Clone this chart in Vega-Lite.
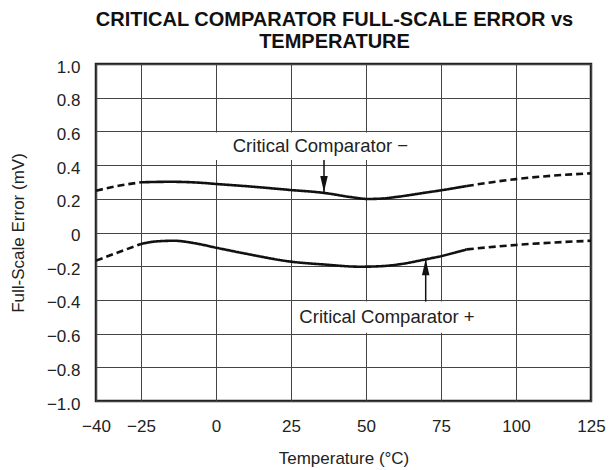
{
  "$schema": "https://vega.github.io/schema/vega-lite/v6.json",
  "width": 495,
  "height": 337,
  "autosize": {"type": "none"},
  "padding": {"left": 96, "top": 64, "right": 18, "bottom": 69},
  "background": "white",
  "config": {
    "font": "Liberation Sans",
    "view": {"stroke": "#222", "strokeWidth": 2.5},
    "axis": {
      "domain": false,
      "ticks": false,
      "grid": true,
      "gridColor": "#444",
      "gridWidth": 1,
      "labelOverlap": false,
      "labelFlush": false,
      "labelBound": false,
      "labelFont": "Liberation Sans",
      "labelFontSize": 17,
      "labelColor": "#222",
      "titleFont": "Liberation Sans",
      "titleFontSize": 17,
      "titleFontWeight": "normal",
      "titleColor": "#222"
    }
  },
  "title": {
    "text": ["CRITICAL COMPARATOR FULL-SCALE ERROR vs", "TEMPERATURE"],
    "font": "Liberation Sans",
    "fontSize": 20,
    "fontWeight": "bold",
    "color": "#111",
    "lineHeight": 22,
    "anchor": "middle",
    "dx": -9,
    "offset": 6
  },
  "datasets": {
    "curves": [
      {"series": "minus", "part": "dashed1", "t": -40, "v": 0.248},
      {"series": "minus", "part": "dashed1", "t": -32.5, "v": 0.277},
      {"series": "minus", "part": "dashed1", "t": -25, "v": 0.298},
      {"series": "minus", "part": "solid", "t": -25, "v": 0.298},
      {"series": "minus", "part": "solid", "t": -15, "v": 0.301},
      {"series": "minus", "part": "solid", "t": -5, "v": 0.295},
      {"series": "minus", "part": "solid", "t": 0, "v": 0.288},
      {"series": "minus", "part": "solid", "t": 10, "v": 0.275},
      {"series": "minus", "part": "solid", "t": 25, "v": 0.252},
      {"series": "minus", "part": "solid", "t": 36, "v": 0.235},
      {"series": "minus", "part": "solid", "t": 45, "v": 0.21},
      {"series": "minus", "part": "solid", "t": 50.6, "v": 0.199},
      {"series": "minus", "part": "solid", "t": 55, "v": 0.201},
      {"series": "minus", "part": "solid", "t": 61, "v": 0.213},
      {"series": "minus", "part": "solid", "t": 70, "v": 0.237},
      {"series": "minus", "part": "solid", "t": 75.6, "v": 0.252},
      {"series": "minus", "part": "solid", "t": 83.6, "v": 0.276},
      {"series": "minus", "part": "dashed2", "t": 83.6, "v": 0.276},
      {"series": "minus", "part": "dashed2", "t": 100, "v": 0.317},
      {"series": "minus", "part": "dashed2", "t": 112, "v": 0.337},
      {"series": "minus", "part": "dashed2", "t": 125, "v": 0.351},
      {"series": "plus", "part": "dashed1", "t": -40, "v": -0.167},
      {"series": "plus", "part": "dashed1", "t": -32.5, "v": -0.117},
      {"series": "plus", "part": "dashed1", "t": -25, "v": -0.068},
      {"series": "plus", "part": "solid", "t": -25, "v": -0.068},
      {"series": "plus", "part": "solid", "t": -20, "v": -0.053},
      {"series": "plus", "part": "solid", "t": -14, "v": -0.049},
      {"series": "plus", "part": "solid", "t": -7, "v": -0.064},
      {"series": "plus", "part": "solid", "t": 0, "v": -0.09},
      {"series": "plus", "part": "solid", "t": 10, "v": -0.126},
      {"series": "plus", "part": "solid", "t": 25, "v": -0.173},
      {"series": "plus", "part": "solid", "t": 36, "v": -0.19},
      {"series": "plus", "part": "solid", "t": 48, "v": -0.203},
      {"series": "plus", "part": "solid", "t": 55, "v": -0.2},
      {"series": "plus", "part": "solid", "t": 61, "v": -0.189},
      {"series": "plus", "part": "solid", "t": 70, "v": -0.159},
      {"series": "plus", "part": "solid", "t": 75.6, "v": -0.138},
      {"series": "plus", "part": "solid", "t": 83.6, "v": -0.1},
      {"series": "plus", "part": "dashed2", "t": 83.6, "v": -0.1},
      {"series": "plus", "part": "dashed2", "t": 100, "v": -0.074},
      {"series": "plus", "part": "dashed2", "t": 112, "v": -0.06},
      {"series": "plus", "part": "dashed2", "t": 125, "v": -0.049}
    ],
    "boxes": [
      {"t1": -2, "t2": 68, "v1": 0.593, "v2": 0.43},
      {"t1": 26, "t2": 89.5, "v1": -0.41, "v2": -0.595}
    ],
    "arrows": [
      {"t": 36, "tip": 0.24, "tail": 0.43, "dir": "down"},
      {"t": 69.9, "tip": -0.159, "tail": -0.41, "dir": "up"}
    ],
    "labels": [
      {"t": 34.8, "v": 0.477, "text": "Critical Comparator −"},
      {"t": 57, "v": -0.539, "text": "Critical Comparator +"}
    ]
  },
  "layer": [
    {
      "data": {"name": "boxes"},
      "mark": {"type": "rect", "fill": "white", "stroke": null},
      "encoding": {
        "x": {"field": "t1", "type": "quantitative"},
        "x2": {"field": "t2"},
        "y": {"field": "v1", "type": "quantitative"},
        "y2": {"field": "v2"}
      }
    },
    {
      "data": {"name": "curves"},
      "mark": {"type": "line", "interpolate": "monotone", "strokeWidth": 2.6, "color": "#111"},
      "encoding": {
        "x": {
          "field": "t", "type": "quantitative",
          "scale": {"domain": [-40, 125], "nice": false, "zero": false},
          "axis": {
            "title": "Temperature (°C)",
            "values": [-40, -25, 0, 25, 50, 75, 100, 125],
            "tickCount": 20,
            "labelPadding": 17,
            "titlePadding": 16,
            "format": "d"
          }
        },
        "y": {
          "field": "v", "type": "quantitative",
          "scale": {"domain": [-1, 1], "nice": false},
          "axis": {
            "title": "Full-Scale Error (mV)",
            "values": [-1, -0.8, -0.6, -0.4, -0.2, 0, 0.2, 0.4, 0.6, 0.8, 1],
            "tickCount": 20,
            "labelExpr": "datum.value == 0 ? '0' : format(datum.value, '.1f')",
            "labelPadding": 16,
            "labelOffset": 3,
            "titlePadding": 19
          }
        },
        "detail": {"field": "series"},
        "strokeDash": {
          "field": "part", "type": "nominal",
          "scale": {"domain": ["solid", "dashed1", "dashed2"], "range": [[1, 0], [7, 4], [7, 4]]},
          "legend": null
        }
      }
    },
    {
      "data": {"name": "arrows"},
      "mark": {"type": "rule", "color": "#111", "strokeWidth": 1.5},
      "encoding": {
        "x": {"field": "t", "type": "quantitative"},
        "y": {"field": "tail", "type": "quantitative"},
        "y2": {"field": "tip"}
      }
    },
    {
      "data": {"name": "arrows"},
      "mark": {"type": "point", "filled": true, "color": "#111", "opacity": 1, "size": 256, "strokeWidth": 0},
      "encoding": {
        "x": {"field": "t", "type": "quantitative"},
        "y": {"field": "tip", "type": "quantitative"},
        "shape": {
          "field": "dir", "type": "nominal",
          "scale": {"domain": ["down", "up"], "range": ["M -0.47 -2 L 0.47 -2 L 0 0 Z", "M -0.47 2 L 0.47 2 L 0 0 Z"]},
          "legend": null
        }
      }
    },
    {
      "data": {"name": "labels"},
      "mark": {"type": "text", "font": "Liberation Sans", "fontSize": 18.5, "color": "#222", "align": "center", "baseline": "alphabetic"},
      "encoding": {
        "x": {"field": "t", "type": "quantitative"},
        "y": {"field": "v", "type": "quantitative"},
        "text": {"field": "text"}
      }
    }
  ]
}
